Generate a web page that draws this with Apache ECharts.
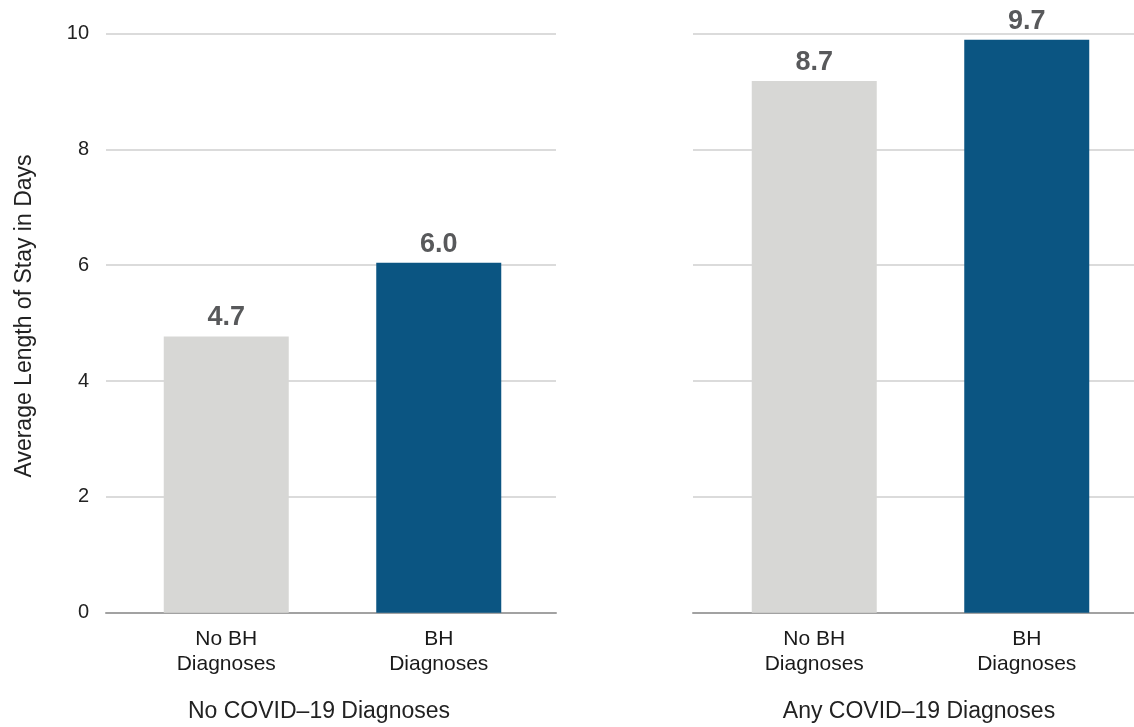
<!DOCTYPE html>
<html><head><meta charset="utf-8">
<script src="https://cdn.jsdelivr.net/npm/echarts@6/dist/echarts.min.js"></script>
<style>html,body{margin:0;padding:0;background:#fff}#c{width:1134px;height:727px}</style>
</head><body><div id="c"></div>
<script>
const categories = ['No BH\nDiagnoses', 'BH\nDiagnoses'];
const groupTitles = ['No COVID\u201319 Diagnoses', 'Any COVID\u201319 Diagnoses'];
const noCovidValues = [4.77, 6.04];
const anyCovidValues = [9.18, 9.89];
const noCovidLabels = ['4.7', '6.0'];
const anyCovidLabels = ['8.7', '9.7'];
const yTicks = [0, 2, 4, 6, 8, 10];
const yAxisTitle = 'Average Length of Stay in Days';

const barColors = ['#d7d7d5', '#0b5582'];
const FONT = "'Liberation Sans', Arial, Helvetica, sans-serif";
const TOP = 33.5, BOTTOM = 114.3;

function gridAxisX(gridIndex) {
  return { type: 'category', gridIndex, data: categories, boundaryGap: true,
    axisLine: { show: true, lineStyle: { color: '#a2a2a2', width: 2 } },
    axisTick: { show: false }, axisLabel: { show: false }, splitLine: { show: false } };
}
function barAxisX(gridIndex) {
  return { type: 'category', gridIndex, data: categories,
    axisLine: { show: false }, axisTick: { show: false },
    axisLabel: { show: true, color: '#1a1a1a', fontFamily: FONT, fontSize: 21, lineHeight: 25, margin: 14 } };
}
function gridAxisY(gridIndex, showLabels) {
  return { type: 'value', gridIndex, min: yTicks[0], max: yTicks[yTicks.length - 1], interval: 2,
    axisLine: { show: false }, axisTick: { show: false },
    axisLabel: { show: showLabels, color: '#222', fontFamily: FONT, fontSize: 20, margin: 17 },
    splitLine: { show: true, lineStyle: { color: '#cfcfcf', width: 1.5 } } };
}
function barAxisY(gridIndex) {
  return { type: 'value', gridIndex, min: yTicks[0], max: yTicks[yTicks.length - 1], interval: 2, show: false, splitLine: { show: false } };
}
function barSeries(axisIndex, values, labels) {
  return { type: 'bar', xAxisIndex: axisIndex, yAxisIndex: axisIndex, barWidth: 125,
    data: values.map((v, i) => ({ value: v, itemStyle: { color: barColors[i] } })),
    label: { show: true, position: 'top', distance: 5, color: '#58595b', fontFamily: FONT,
      fontWeight: 'bold', fontSize: 27, formatter: p => labels[p.dataIndex] },
    emphasis: { disabled: true }, animation: false };
}

const chart = echarts.init(document.getElementById('c'));
chart.setOption({
  animation: false,
  backgroundColor: '#fff',
  grid: [
    { left: 106, width: 450, top: TOP, bottom: BOTTOM },
    { left: 120, width: 425, top: TOP, bottom: BOTTOM },
    { left: 693, right: 0, top: TOP, bottom: BOTTOM },
    { left: 708, width: 425, top: TOP, bottom: BOTTOM }
  ],
  xAxis: [gridAxisX(0), barAxisX(1), gridAxisX(2), barAxisX(3)],
  yAxis: [gridAxisY(0, true), barAxisY(1), gridAxisY(2, false), barAxisY(3)],
  series: [
    barSeries(1, noCovidValues, noCovidLabels),
    barSeries(3, anyCovidValues, anyCovidLabels)
  ],
  graphic: [
    { type: 'text', x: 319, y: 712, style: { text: groupTitles[0], fill: '#222', fontFamily: FONT, fontSize: 23, textAlign: 'center', textVerticalAlign: 'middle' } },
    { type: 'text', x: 919, y: 712, style: { text: groupTitles[1], fill: '#222', fontFamily: FONT, fontSize: 23, textAlign: 'center', textVerticalAlign: 'middle' } },
    { type: 'text', x: 25, y: 316, rotation: Math.PI / 2, style: { text: yAxisTitle, fill: '#222', fontFamily: FONT, fontSize: 23, textAlign: 'center', textVerticalAlign: 'middle' } }
  ]
});
</script></body></html>
